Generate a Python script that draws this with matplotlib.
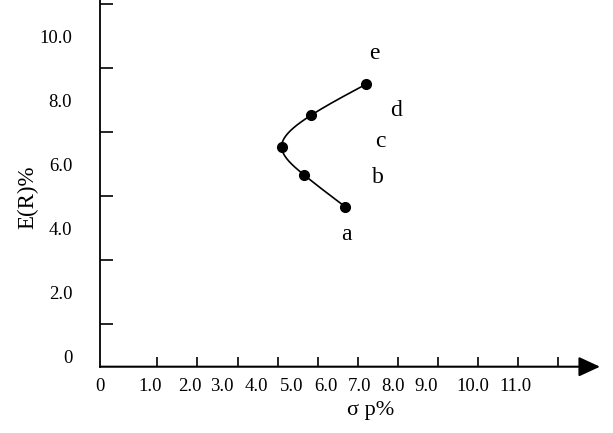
import numpy as np
import matplotlib
matplotlib.use("Agg")
import matplotlib.pyplot as plt

plt.rcParams['font.family'] = ['Liberation Serif', 'DejaVu Serif']

# carteiras a..e (x em unidades de marca do eixo, y em %)
nomesPontos = ['a', 'b', 'c', 'd', 'e']
sigmaPontos = np.array([5.68, 4.66, 4.10, 4.84, 6.20])
retornoPontos = np.array([4.67, 5.66, 6.54, 7.53, 8.49])

# posicao das letras
letraX = [5.72, 6.51, 6.56, 6.96, 6.41]
letraY = [3.81, 5.59, 6.69, 7.66, 9.44]

# rotulos do eixo x (desalinhados das marcas, como no original)
rotulosX = ['0', '1.0', '2.0', '3.0', '4.0', '5.0', '6.0', '7.0', '8.0', '9.0', '10.0', '11.0']
posRotulosX = [-0.43, 0.83, 1.80, 2.61, 3.48, 4.34, 5.20, 6.04, 6.88, 7.70, 8.88, 9.94]
marcasX = np.arange(1, 12)

rotulosY = ['0', '2.0', '4.0', '6.0', '8.0', '10.0']
posRotulosY = [0, 2, 4, 6, 8, 10]
marcasY = np.arange(1, 12)


def splineNatural(t, v, tNovo):
    n = len(t)
    h = np.diff(t)
    A = np.zeros((n, n))
    b = np.zeros(n)
    A[0, 0] = 1
    A[-1, -1] = 1
    for i in range(1, n - 1):
        A[i, i - 1] = h[i - 1]
        A[i, i] = 2 * (h[i - 1] + h[i])
        A[i, i + 1] = h[i]
        b[i] = 6 * ((v[i + 1] - v[i]) / h[i] - (v[i] - v[i - 1]) / h[i - 1])
    M = np.linalg.solve(A, b)
    saida = np.zeros_like(tNovo)
    for k, tt in enumerate(tNovo):
        i = min(np.searchsorted(t, tt) - 1, n - 2)
        i = max(i, 0)
        a = t[i + 1] - tt
        c = tt - t[i]
        saida[k] = (M[i] * a**3 / (6 * h[i]) + M[i + 1] * c**3 / (6 * h[i])
                    + (v[i] / h[i] - M[i] * h[i] / 6) * a
                    + (v[i + 1] / h[i] - M[i + 1] * h[i] / 6) * c)
    return saida


fig = plt.figure(figsize=(6.13, 4.33), dpi=100)
ax = fig.add_axes([100 / 613, 66.3 / 433, 500 / 613, 366.7 / 433])
ax.set_xlim(-0.3, 12.04)
ax.set_ylim(-0.33, 11.125)

# curva suave passando pelos pontos
yCurva = np.linspace(retornoPontos[0], retornoPontos[-1], 200)
xCurva = splineNatural(retornoPontos, sigmaPontos, yCurva)
ax.plot(xCurva, yCurva, color='black', lw=1.2)
ax.plot(sigmaPontos, retornoPontos, 'o', color='black', markersize=7)

for nome, lx, ly in zip(nomesPontos, letraX, letraY):
    ax.text(lx, ly, nome, fontsize=17, ha='center', va='center')

# eixos
for lado in ['top', 'right', 'bottom']:
    ax.spines[lado].set_visible(False)
ax.spines['left'].set_linewidth(1.3)
ax.annotate('', xy=(1, 0), xycoords='axes fraction', xytext=(0, 0),
            arrowprops=dict(arrowstyle='-|>,head_length=1.3,head_width=0.6',
                            lw=1.5, color='black', mutation_scale=10,
                            shrinkA=0, shrinkB=0))

ax.set_xticks(posRotulosX)
ax.set_xticklabels(rotulosX, fontsize=13.5)
ax.set_xticks(marcasX, minor=True)
ax.set_yticks(posRotulosY)
ax.set_yticklabels(rotulosY, fontsize=13.5)
ax.set_yticks(marcasY, minor=True)
ax.tick_params(axis='x', which='major', length=0, pad=8)
ax.tick_params(axis='x', which='minor', direction='in', length=7.5, width=1.2)
ax.tick_params(axis='y', which='major', length=0, pad=20)
ax.tick_params(axis='y', which='minor', direction='in', length=9.5, width=1.2)

fig.text(371 / 613, 1 - 411 / 433, 'σ p%', fontsize=16, ha='center', va='center')
fig.text(28 / 613, 1 - 197 / 433, 'E(R)%', fontsize=16.5, ha='center', va='center',
         rotation=90)

fig.savefig('out.png', dpi=100)
